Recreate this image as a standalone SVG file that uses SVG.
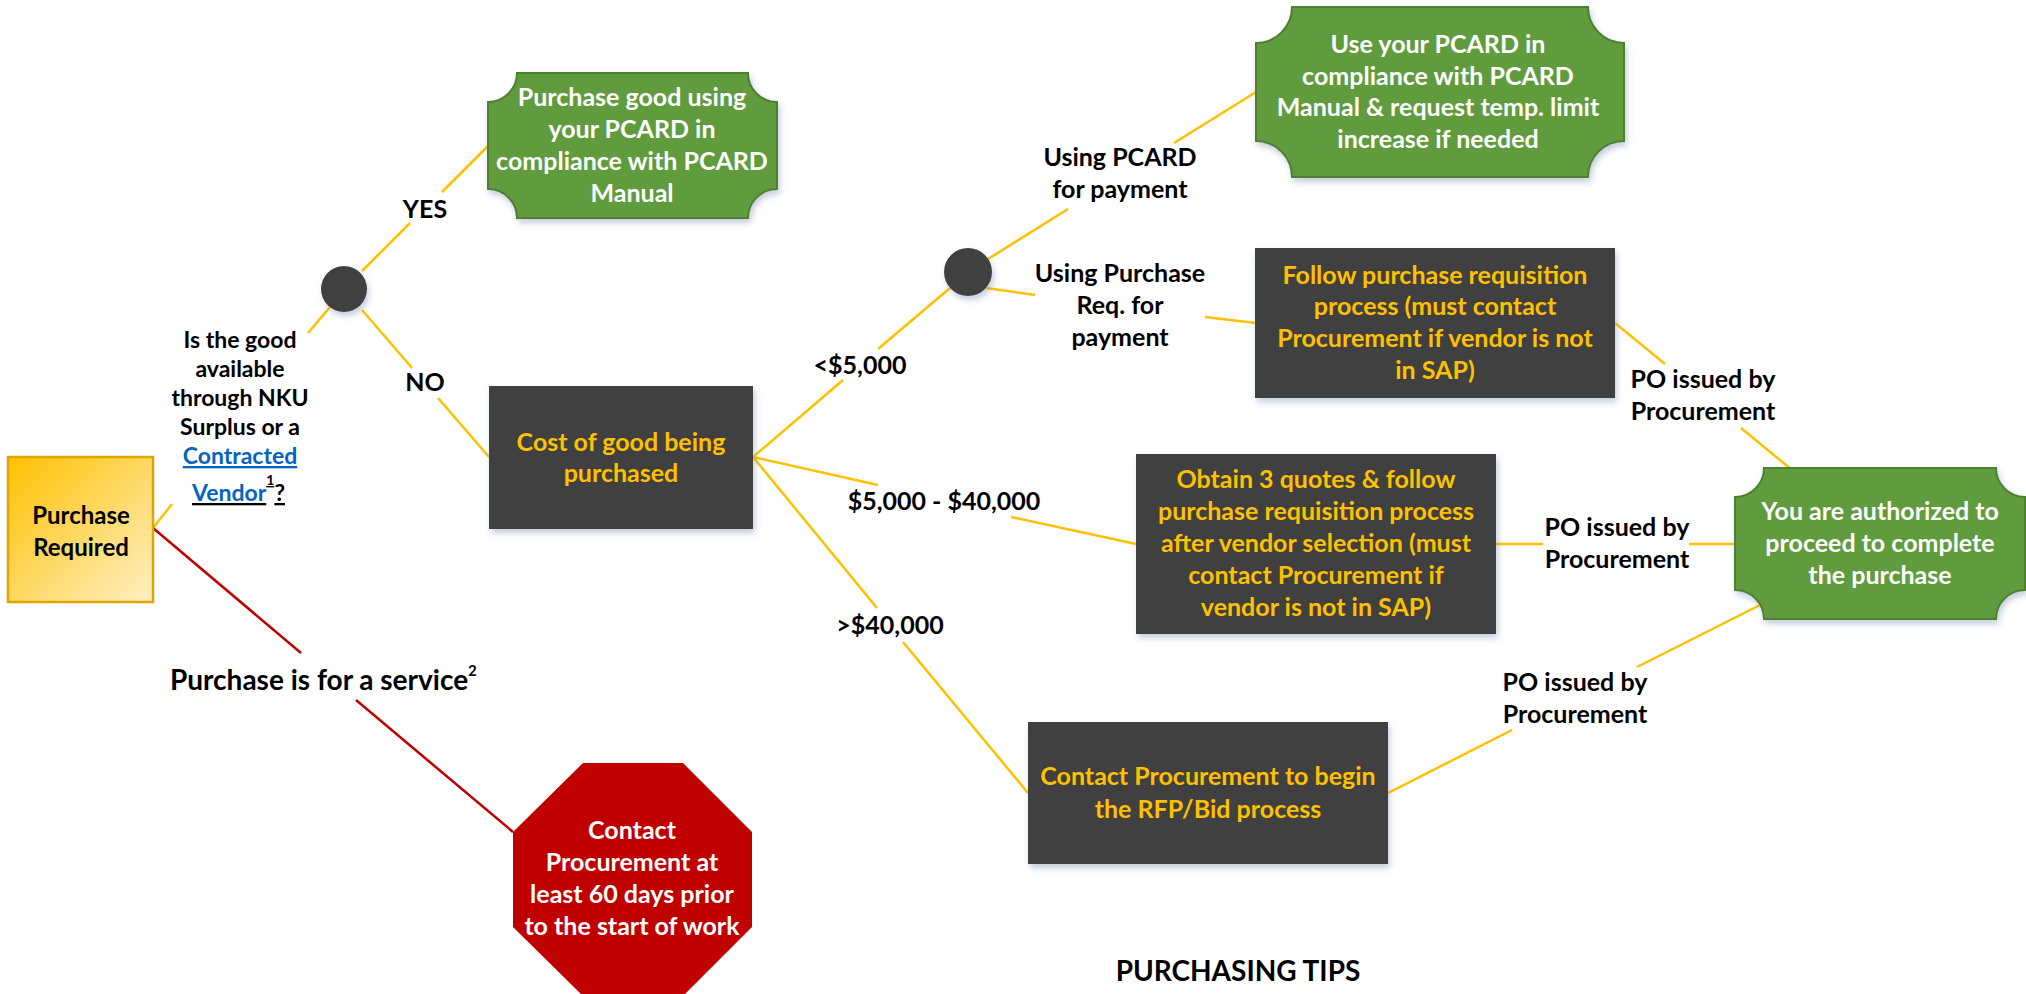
<svg xmlns="http://www.w3.org/2000/svg" width="2026" height="994" viewBox="0 0 2026 994">
<defs>
<linearGradient id="gPR" x1="0" y1="0" x2="1" y2="1">
<stop offset="0" stop-color="#FFC000"/>
<stop offset="1" stop-color="#FFF0C4"/>
</linearGradient>
<filter id="sh" x="-10%" y="-10%" width="130%" height="140%">
<feDropShadow dx="2" dy="4" stdDeviation="3" flood-color="#7f93b0" flood-opacity="0.45"/>
</filter>
</defs>
<style>
.t{font-family:Lato,"Liberation Sans",sans-serif;font-weight:700;text-anchor:middle}
.n{font-size:25px}
.m{font-size:24px}
.q{font-size:23px}
.big{font-size:28px}
.w{fill:#ffffff}
.g{fill:#FFC000}
.k{fill:#000000}
.dark{fill:#404040}
.green{fill:#619B3D;stroke:#507F33;stroke-width:2}
.c{stroke:#FFC000;stroke-width:2.5;fill:none}
.r{stroke:#C00000;stroke-width:2.5;fill:none}
.lnk{fill:#0563C1;text-decoration:underline}
</style>
<rect width="2026" height="994" fill="#ffffff"/>

<g id="connectors">
<path class="c" d="M153,528 L172,504 M308,333 L330,307"/>
<path class="c" d="M362,271 L410,223 M442,192 L489,145"/>
<path class="c" d="M362,310 L412,368 M438,398 L489,457"/>
<path class="c" d="M753,457 L843,380 M878,349 L950,288"/>
<path class="c" d="M988,259 L1068,209 M1174,143 L1256,92"/>
<path class="c" d="M986,288 L1035,295 M1205,317 L1256,323"/>
<path class="c" d="M753,457 L878,485 M1011,517 L1136,544"/>
<path class="c" d="M753,457 L877,608 M903,642 L1028,793"/>
<path class="c" d="M1615,323 L1665,364 M1741,428 L1792,470"/>
<path class="c" d="M1496,544 L1543,544 M1689,544 L1736,544"/>
<path class="c" d="M1388,793 L1512,730 M1637,667 L1762,604"/>
<path class="r" d="M153,528 L301,653 M356,700 L513,832"/>

<text class="t n k" x="425" y="218">YES</text>
<text class="t n k" x="425" y="391">NO</text>
<text class="t q k" x="240"><tspan x="240" y="348">Is the good</tspan><tspan x="240" y="377">available</tspan><tspan x="240" y="406">through NKU</tspan><tspan x="240" y="435">Surplus or a</tspan><tspan x="240" y="464" class="lnk">Contracted</tspan></text>
<text x="192" y="501" style="font-family:Lato,'Liberation Sans',sans-serif;font-weight:700;font-size:23px;text-decoration:underline"><tspan fill="#0563C1">Vendor</tspan><tspan fill="#000000" font-size="14" dy="-16">1</tspan><tspan fill="#000000" dy="16">?</tspan></text>
<text class="t n k" x="860" y="374">&lt;$5,000</text>
<text class="t n k" x="944" y="510">$5,000 - $40,000</text>
<text class="t n k" x="890" y="634">&gt;$40,000</text>
<text class="t n k"><tspan x="1120" y="166">Using PCARD</tspan><tspan x="1120" y="198">for payment</tspan></text>
<text class="t n k"><tspan x="1120" y="282">Using Purchase</tspan><tspan x="1120" y="314">Req. for</tspan><tspan x="1120" y="346">payment</tspan></text>
<text class="t n k"><tspan x="1703" y="388">PO issued by</tspan><tspan x="1703" y="420">Procurement</tspan></text>
<text class="t n k"><tspan x="1617" y="536">PO issued by</tspan><tspan x="1617" y="568">Procurement</tspan></text>
<text class="t n k"><tspan x="1575" y="691">PO issued by</tspan><tspan x="1575" y="723">Procurement</tspan></text>
<text x="170" y="690" style="font-family:Lato,'Liberation Sans',sans-serif;font-weight:700;font-size:28px" fill="#000000">Purchase is for a service<tspan font-size="15" dy="-14">2</tspan></text>
</g>

<g id="purchase-required">
<rect x="8" y="457" width="145" height="145" fill="url(#gPR)" stroke="#E0A500" stroke-width="2.5"/>
<text class="t m k"><tspan x="81" y="524">Purchase</tspan><tspan x="81" y="556">Required</tspan></text>
</g>

<g id="decision-1">
<circle cx="344" cy="289" r="23" class="dark" filter="url(#sh)"/>
</g>

<g id="pcard-purchase">
<path class="green" filter="url(#sh)" d="M517,73 L748,73 A29,29 0 0 0 777,102 L777,189 A29,29 0 0 0 748,218 L517,218 A29,29 0 0 0 488,189 L488,102 A29,29 0 0 0 517,73 Z"/>
<text class="t n w"><tspan x="632" y="106">Purchase good using</tspan><tspan x="632" y="138">your PCARD in</tspan><tspan x="632" y="170">compliance with PCARD</tspan><tspan x="632" y="202">Manual</tspan></text>
</g>

<g id="cost">
<rect x="489" y="386" width="264" height="143" class="dark" filter="url(#sh)"/>
<text class="t n g"><tspan x="621" y="451">Cost of good being</tspan><tspan x="621" y="482">purchased</tspan></text>
</g>

<g id="decision-2">
<circle cx="968" cy="272" r="24" class="dark" filter="url(#sh)"/>
</g>

<g id="pcard-limit">
<path class="green" filter="url(#sh)" d="M1292,7 L1588,7 A36,36 0 0 0 1624,43 L1624,141 A36,36 0 0 0 1588,177 L1292,177 A36,36 0 0 0 1256,141 L1256,43 A36,36 0 0 0 1292,7 Z"/>
<text class="t n w"><tspan x="1438" y="53">Use your PCARD in</tspan><tspan x="1438" y="85">compliance with PCARD</tspan><tspan x="1438" y="116">Manual &amp; request temp. limit</tspan><tspan x="1438" y="148">increase if needed</tspan></text>
</g>

<g id="requisition">
<rect x="1255" y="248" width="360" height="150" class="dark" filter="url(#sh)"/>
<text class="t n g"><tspan x="1435" y="284">Follow purchase requisition</tspan><tspan x="1435" y="315">process (must contact</tspan><tspan x="1435" y="347">Procurement if vendor is not</tspan><tspan x="1435" y="379">in SAP)</tspan></text>
</g>

<g id="quotes">
<rect x="1136" y="454" width="360" height="180" class="dark" filter="url(#sh)"/>
<text class="t n g"><tspan x="1316" y="488">Obtain 3 quotes &amp; follow</tspan><tspan x="1316" y="520">purchase requisition process</tspan><tspan x="1316" y="552">after vendor selection (must</tspan><tspan x="1316" y="584">contact Procurement if</tspan><tspan x="1316" y="616">vendor is not in SAP)</tspan></text>
</g>

<g id="rfp">
<rect x="1028" y="722" width="360" height="142" class="dark" filter="url(#sh)"/>
<text class="t n g"><tspan x="1208" y="785">Contact Procurement to begin</tspan><tspan x="1208" y="818">the RFP/Bid process</tspan></text>
</g>

<g id="authorized">
<path class="green" filter="url(#sh)" d="M1764,468 L1996,468 A29,29 0 0 0 2025,497 L2025,590 A29,29 0 0 0 1996,619 L1764,619 A29,29 0 0 0 1735,590 L1735,497 A29,29 0 0 0 1764,468 Z"/>
<text class="t n w"><tspan x="1880" y="520">You are authorized to</tspan><tspan x="1880" y="552">proceed to complete</tspan><tspan x="1880" y="584">the purchase</tspan></text>
</g>

<g id="service-stop">
<polygon points="583,763 683,763 752,832 752,927 683,996 583,996 513,927 513,832" fill="#C00000"/>
<text class="t n w"><tspan x="632" y="839">Contact</tspan><tspan x="632" y="871">Procurement at</tspan><tspan x="632" y="903">least 60 days prior</tspan><tspan x="632" y="935">to the start of work</tspan></text>
</g>

<g id="tips">
<text class="t big k" x="1238" y="981">PURCHASING TIPS</text>
</g>
</svg>
